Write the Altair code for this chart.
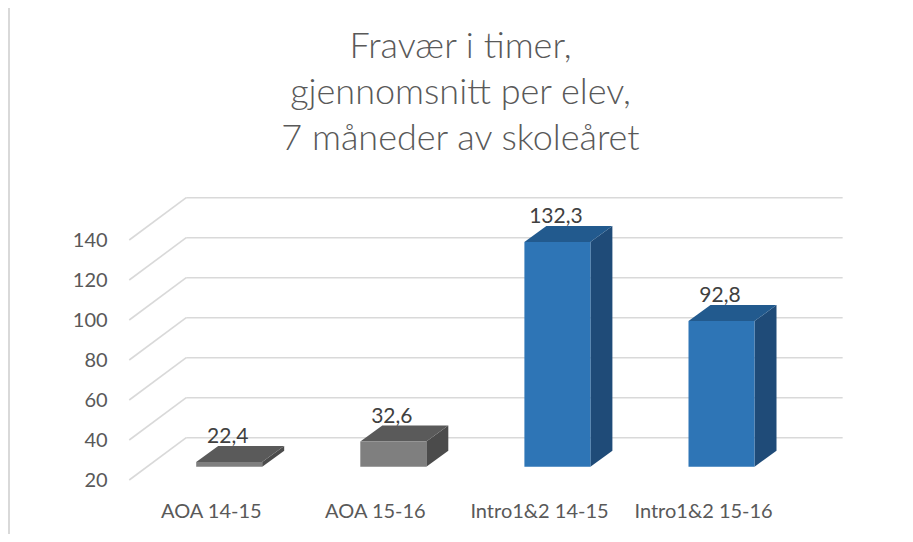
import altair as alt
import pandas as pd

# ---- data ----
categories = ["AOA 14-15", "AOA 15-16", "Intro1&2 14-15", "Intro1&2 15-16"]
values = [22.4, 32.6, 132.3, 92.8]
ticks = [20, 40, 60, 80, 100, 120, 140]
front_colors = ["#7f7f7f", "#7f7f7f", "#2e75b6", "#2e75b6"]
top_colors = ["#5a5a5a", "#5a5a5a", "#225a8e", "#225a8e"]
side_colors = ["#4b4b4b", "#4b4b4b", "#1f4b78", "#1f4b78"]
title_lines = ["Fravær i timer,", "gjennomsnitt per elev,", "7 måneder av skoleåret"]

# ---- geometry (pixels) ----
W, H, PAD_TOP = 897, 356, 170
SLOT_PX = 164.1          # pixels per category slot
UNIT_PX = 2.0            # pixels per value unit
X0 = -203.3 / SLOT_PX    # left edge of the plot in slot units
Y0 = -7.0                # bottom edge of the plot in value units
BASE = 20

def px_x(p):
    return p / SLOT_PX

def px_y(p):
    return p / UNIT_PX

WALL_DX, WALL_DY = px_x(57), px_y(42.3)
PLANE_DX, PLANE_DY = px_x(17.9), px_y(13.3)
BAR_DX, BAR_DY = px_x(22), px_y(16)
HALF_W = px_x(33)

xscale = alt.Scale(domain=[X0, X0 + W / SLOT_PX], nice=False, zero=False)
yscale = alt.Scale(domain=[Y0, Y0 + H / UNIT_PX], nice=False, zero=False)

# ---- face tables ----
front, topf, side, labels = [], [], [], []
for i, (c, v) in enumerate(zip(categories, values)):
    xc = i + PLANE_DX
    xl, xr = xc - HALF_W, xc + HALF_W
    b = BASE + PLANE_DY
    t = v + PLANE_DY
    front.append(dict(cat=c, x=xl, x2=xr, y=t, y2=b, col=front_colors[i]))
    for xx, lo, hi in [(xl, t, t), (xl + BAR_DX, t, t + BAR_DY),
                       (xr, t, t + BAR_DY), (xr + BAR_DX, t + BAR_DY, t + BAR_DY)]:
        topf.append(dict(cat=c, x=xx, lo=lo, hi=hi, col=top_colors[i]))
    for xx, lo, hi in [(xr, b, t), (xr + BAR_DX, b + BAR_DY, t + BAR_DY)]:
        side.append(dict(cat=c, x=xx, lo=lo, hi=hi, col=side_colors[i]))
    labels.append(dict(cat=c, x=xc, y=t, lab=f"{v:.1f}".replace(".", ","),
                       xi=i, base=BASE))

front_df = pd.DataFrame(front)
top_df = pd.DataFrame(topf)
side_df = pd.DataFrame(side)
lab_df = pd.DataFrame(labels)

FL, FR = -0.5, len(categories) - 0.5
grid_df = pd.DataFrame(dict(tick=ticks,
                            yb=[t + WALL_DY for t in ticks],
                            xf=[FL] * len(ticks),
                            xb=[FL + WALL_DX] * len(ticks),
                            xr=[FR + WALL_DX] * len(ticks),
                            txt=[str(t) for t in ticks]))

GRID = "#d9d9d9"
FONT = "Lato"

X = lambda f: alt.X(f, type="quantitative", scale=xscale, axis=None)
Y = lambda f: alt.Y(f, type="quantitative", scale=yscale, axis=None, stack=None)

back_lines = alt.Chart(grid_df).mark_rule(color=GRID, strokeWidth=1.6).encode(
    x=X("xb"), x2="xr", y=Y("yb"))
diag_lines = alt.Chart(grid_df).mark_rule(color=GRID, strokeWidth=1.6).encode(
    x=X("xf"), x2="xb", y=Y("tick"), y2="yb")
tick_text = alt.Chart(grid_df).mark_text(
    align="right", baseline="middle", dx=-21.6, dy=1, font=FONT, fontSize=20,
    color="#595959").encode(x=X("xf"), y=Y("tick"), text="txt:N")

side_layer = alt.Chart(side_df).mark_area(strokeWidth=0).encode(
    x=X("x"), y=Y("hi"), y2="lo", detail="cat:N",
    color=alt.Color("col:N", scale=None))
top_layer = alt.Chart(top_df).mark_area(strokeWidth=0).encode(
    x=X("x"), y=Y("hi"), y2="lo", detail="cat:N",
    color=alt.Color("col:N", scale=None))
front_layer = alt.Chart(front_df).mark_rect().encode(
    x=X("x"), x2="x2", y=Y("y"), y2="y2",
    color=alt.Color("col:N", scale=None))

value_text = alt.Chart(lab_df).mark_text(
    align="center", baseline="middle", dx=-1.5, dy=-25, font=FONT, fontSize=21,
    color="#404040").encode(x=X("x"), y=Y("y"), text="lab:N")
cat_text = alt.Chart(lab_df).mark_text(
    align="center", baseline="middle", dy=32, font=FONT, fontSize=20,
    color="#595959").encode(x=X("xi"), y=Y("base"), text="cat:N")

frame = alt.Chart(lab_df).mark_rule(color="#d9d9d9", strokeWidth=1.5).encode(
    x=alt.value(1), y=alt.value(-PAD_TOP), y2=alt.value(H))

title_df = pd.DataFrame({"line": [0], "txt": ["\n".join(title_lines)]})
title_text = alt.Chart(title_df).mark_text(
    align="center", baseline="alphabetic", lineBreak="\n", lineHeight=46,
    font=FONT, fontSize=36, fontWeight=300, color="#595959").encode(
    x=alt.value(W / 2 + 4), y=alt.value(58 - 8 - PAD_TOP), text="txt:N")

chart = alt.layer(
    frame, back_lines, diag_lines, tick_text,
    side_layer, top_layer, front_layer, value_text, cat_text, title_text
).properties(
    width=W, height=H,
    padding={"left": 0, "right": 0, "top": PAD_TOP, "bottom": 0},
    autosize=alt.AutoSizeParams(type="none"),
).configure_view(stroke=None)

chart.save("out.html", embed_options={"renderer": "svg", "actions": False})
